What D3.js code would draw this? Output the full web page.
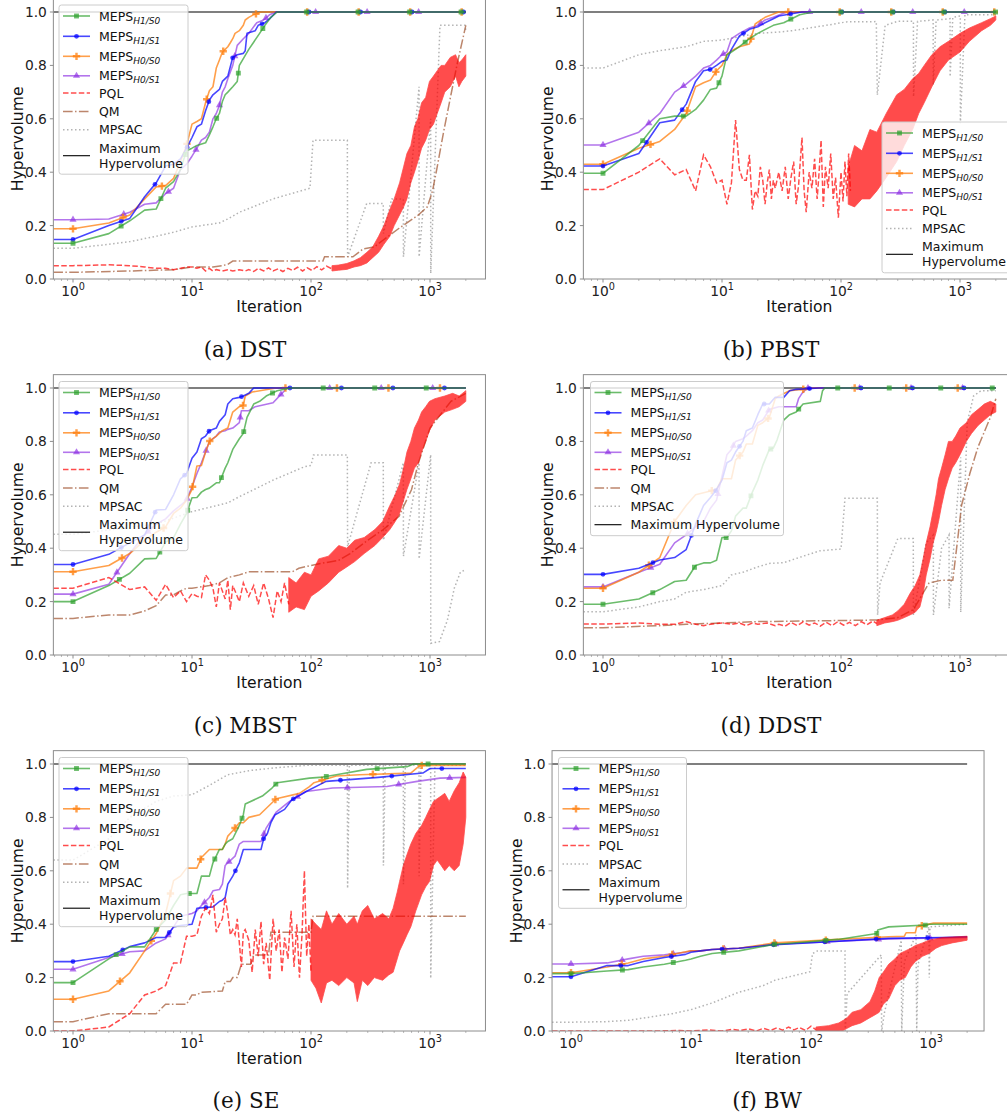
<!DOCTYPE html>
<html><head><meta charset="utf-8">
<script src="https://cdn.jsdelivr.net/npm/d3@7"></script>
<style>body{margin:0;background:#fff;overflow:hidden} svg text{font-family:"DejaVu Sans",sans-serif}</style>
</head><body><script>
// ---------------- DATA (iteration, hypervolume) ----------------
const TICK_Y = [0, 0.2, 0.4, 0.6, 0.8, 1.0];
const TICK_X = [1, 10, 100, 1000];
const MAX_HV = [[1, 1.0], [2000, 1.0]];

// (a) DST
const DST_H1S0 = [[1,0.134],[2,0.17],[3,0.218],[4,0.258],[5,0.262],[6,0.34],[7,0.365],[8,0.41],[9,0.48],[10,0.49],[11,0.50],[13,0.51],[14,0.54],[15,0.57],[16,0.60],[17,0.62],[18,0.665],[19,0.69],[20,0.70],[22,0.72],[24,0.74],[25,0.80],[30,0.86],[37,0.92],[41,0.95],[46,0.98],[52,1.0],[2000,1.0]];
const DST_H1S1 = [[1,0.148],[2,0.2],[3,0.227],[4,0.308],[5,0.36],[6,0.423],[7,0.43],[8,0.45],[9,0.49],[10,0.53],[11,0.57],[12,0.58],[13,0.63],[14,0.67],[15,0.69],[17,0.71],[18,0.74],[20,0.76],[22,0.83],[24,0.84],[27,0.845],[28,0.855],[29,0.92],[34,0.93],[36,0.95],[41,0.96],[45,0.975],[51,1.0],[2000,1.0]];
const DST_H0S0 = [[1,0.188],[2,0.21],[3,0.24],[4,0.30],[5,0.345],[6,0.35],[7,0.377],[8,0.44],[9,0.50],[10,0.58],[11,0.59],[12,0.60],[13,0.66],[14,0.705],[15,0.72],[16,0.79],[17,0.82],[18,0.85],[19,0.86],[20,0.87],[21,0.885],[22,0.90],[23,0.92],[25,0.93],[27,0.95],[28,0.97],[30,0.98],[33,0.99],[38,1.0],[2000,1.0]];
const DST_H0S1 = [[1,0.222],[2,0.225],[3,0.25],[4,0.28],[5,0.285],[6,0.32],[7,0.34],[8,0.41],[9,0.43],[10,0.46],[11,0.49],[12,0.52],[13,0.53],[14,0.55],[15,0.60],[16,0.62],[17,0.65],[18,0.70],[19,0.72],[20,0.75],[22,0.80],[24,0.875],[27,0.90],[30,0.92],[35,0.96],[40,0.97],[45,0.99],[50,1.0],[2000,1.0]];
const DST_PQL = [[1,0.05],[2,0.053],[3,0.05],[4,0.045],[5,0.04],[6,0.04],[7,0.035],[8,0.04],[9,0.045],[10,0.045],[11,0.04],[12,0.045],[13,0.03],[14,0.04],[15,0.03],[16,0.035],[18,0.03],[20,0.035],[22,0.03],[25,0.035],[28,0.03],[30,0.035],[33,0.028],[36,0.04],[40,0.03],[44,0.042],[48,0.03],[53,0.038],[58,0.028],[64,0.04],[70,0.032],[77,0.044],[85,0.03],[93,0.042],[102,0.032],[112,0.046],[123,0.034],[135,0.048],[150,0.038]];
const DST_PQL_BAND = [[150,0.03,0.05],[170,0.033,0.052],[200,0.036,0.058],[230,0.045,0.068],[260,0.05,0.08],[295,0.06,0.10],[330,0.08,0.12],[370,0.10,0.16],[410,0.13,0.20],[460,0.16,0.26],[500,0.20,0.30],[555,0.24,0.36],[600,0.27,0.42],[640,0.30,0.47],[690,0.36,0.50],[740,0.40,0.57],[790,0.44,0.60],[850,0.49,0.66],[920,0.52,0.68],[990,0.56,0.74],[1070,0.58,0.76],[1150,0.62,0.78],[1240,0.66,0.80],[1330,0.70,0.80],[1480,0.72,0.83],[1640,0.76,0.84],[1750,0.72,0.81],[1850,0.74,0.82],[2000,0.76,0.84]];
const DST_QM = [[1,0.025],[3,0.03],[7,0.035],[10,0.045],[15,0.045],[18,0.05],[20,0.055],[22,0.067],[126,0.067],[130,0.083],[225,0.083],[275,0.113],[340,0.12],[405,0.146],[550,0.19],[800,0.24],[950,0.27],[1050,0.33],[1150,0.42],[1300,0.55],[1500,0.69],[1700,0.81],[2000,0.95]];
const DST_MPSAC = [[1,0.115],[2,0.13],[3,0.14],[5,0.16],[7,0.175],[10,0.195],[17,0.21],[20,0.225],[25,0.25],[48,0.30],[98,0.34],[104,0.52],[202,0.52],[203,0.083],[294,0.283],[405,0.283],[406,0.17],[476,0.30],[597,0.30],[598,0.083],[809,0.72],[810,0.083],[1013,0.60],[1014,0.021],[1213,0.95],[1968,0.95],[2000,0.93]];

// (b) PBST
const PBST_H1S0 = [[1,0.396],[2,0.50],[3,0.60],[4,0.61],[5,0.61],[6,0.635],[7,0.67],[8,0.71],[9,0.715],[10,0.76],[11,0.84],[12,0.85],[14,0.87],[17,0.90],[20,0.92],[27,0.95],[33,0.96],[45,0.99],[58,1.0],[2000,1.0]];
const PBST_H1S1 = [[1,0.423],[2,0.47],[3,0.585],[4,0.595],[5,0.655],[6,0.74],[7,0.78],[8,0.785],[9,0.80],[10,0.815],[11,0.82],[12,0.86],[14,0.91],[17,0.935],[20,0.945],[23,0.96],[27,0.975],[30,0.985],[47,1.0],[2000,1.0]];
const PBST_H0S0 = [[1,0.43],[2,0.49],[3,0.515],[4,0.56],[5,0.62],[6,0.72],[7,0.735],[8,0.745],[9,0.78],[10,0.80],[11,0.84],[12,0.855],[14,0.87],[17,0.88],[19,0.955],[23,0.98],[30,1.0],[2000,1.0]];
const PBST_H0S1 = [[1,0.502],[2,0.55],[3,0.62],[4,0.70],[5,0.73],[6,0.76],[7,0.79],[8,0.80],[9,0.82],[10,0.84],[11,0.85],[12,0.90],[14,0.92],[17,0.94],[20,0.95],[23,0.97],[27,0.98],[35,1.0],[2000,1.0]];
const PBST_PQL = [[1,0.335],[2,0.40],[3,0.45],[4,0.39],[5,0.41],[6,0.33],[7,0.465],[8,0.42],[9,0.36],[10,0.37],[11,0.28],[12,0.36],[13,0.595],[14,0.41],[15,0.37],[16,0.37],[17,0.465],[18,0.26],[19,0.33],[20,0.31],[21,0.42],[22,0.37],[23,0.28],[24,0.36],[25,0.41],[26,0.30],[27,0.37],[28,0.34],[30,0.40],[32,0.33],[34,0.42],[36,0.30],[38,0.38],[40,0.44],[42,0.28],[44,0.35],[47,0.53],[49,0.33],[51,0.25],[54,0.40],[57,0.34],[60,0.45],[63,0.30],[65,0.38],[68,0.52],[71,0.27],[74,0.42],[78,0.34],[82,0.47],[86,0.30],[90,0.38],[95,0.23],[100,0.40],[104,0.29],[108,0.44],[112,0.31],[116,0.47],[120,0.33]];
const PBST_PQL_BAND = [[115,0.28,0.42],[130,0.27,0.50],[150,0.30,0.48],[175,0.30,0.56],[200,0.33,0.55],[240,0.38,0.62],[294,0.44,0.69],[340,0.50,0.71],[400,0.56,0.75],[450,0.62,0.77],[500,0.66,0.80],[580,0.72,0.84],[680,0.78,0.87],[800,0.82,0.89],[1000,0.85,0.92],[1200,0.89,0.94],[1520,0.93,0.96],[1800,0.95,0.975],[2000,0.97,0.985]];
const PBST_MPSAC = [[1,0.79],[2,0.84],[3,0.855],[5,0.87],[7,0.89],[10,0.895],[15,0.91],[20,0.92],[30,0.925],[39,0.93],[75,0.95],[111,0.963],[198,0.964],[202,0.689],[235,0.95],[300,0.965],[406,0.965],[407,0.683],[440,0.965],[595,0.97],[596,0.727],[630,0.97],[825,0.975],[826,0.758],[870,0.98],[1006,0.985],[1007,0.583],[1100,0.99],[2000,0.99]];

// (c) MBST
const MBST_H1S0 = [[1,0.20],[2,0.26],[3,0.306],[4,0.36],[5,0.362],[6,0.423],[7,0.44],[8,0.49],[9,0.53],[10,0.589],[11,0.59],[12,0.61],[13,0.62],[14,0.625],[16,0.645],[17,0.645],[19,0.70],[20,0.72],[22,0.77],[25,0.81],[27,0.83],[29,0.89],[33,0.94],[37,0.95],[42,0.97],[52,0.99],[67,1.0],[2000,1.0]];
const MBST_H1S1 = [[1,0.339],[2,0.377],[3,0.42],[4,0.45],[5,0.543],[6,0.545],[7,0.60],[8,0.66],[9,0.68],[10,0.737],[11,0.76],[12,0.81],[13,0.82],[14,0.84],[16,0.85],[17,0.875],[19,0.90],[20,0.94],[22,0.96],[25,0.965],[27,0.97],[30,0.98],[33,1.0],[2000,1.0]];
const MBST_H0S0 = [[1,0.312],[2,0.335],[3,0.38],[4,0.43],[5,0.46],[6,0.48],[7,0.53],[8,0.55],[9,0.58],[10,0.62],[11,0.708],[12,0.71],[13,0.76],[14,0.80],[16,0.82],[18,0.84],[20,0.85],[22,0.91],[25,0.93],[27,0.935],[28,0.97],[32,0.985],[51,1.0],[2000,1.0]];
const MBST_H0S1 = [[1,0.228],[2,0.265],[3,0.38],[4,0.45],[5,0.49],[6,0.51],[7,0.54],[8,0.56],[9,0.58],[10,0.63],[11,0.68],[12,0.72],[13,0.76],[14,0.80],[16,0.82],[17,0.835],[19,0.84],[20,0.845],[22,0.85],[25,0.87],[26,0.915],[30,0.915],[34,0.93],[48,0.945],[57,0.98],[63,1.0],[2000,1.0]];
const MBST_PQL = [[1,0.25],[2,0.29],[3,0.245],[4,0.255],[5,0.205],[6,0.265],[7,0.215],[8,0.24],[9,0.20],[10,0.23],[11,0.22],[12,0.215],[13,0.30],[14,0.28],[15,0.25],[16,0.18],[17,0.27],[18,0.24],[19,0.21],[20,0.28],[21,0.17],[22,0.26],[23,0.24],[25,0.20],[27,0.27],[30,0.22],[33,0.26],[36,0.19],[40,0.27],[44,0.21],[48,0.14],[52,0.24],[56,0.20],[60,0.27],[65,0.19]];
const MBST_PQL_BAND = [[65,0.16,0.29],[75,0.18,0.27],[88,0.17,0.31],[100,0.22,0.30],[116,0.24,0.36],[140,0.27,0.37],[171,0.31,0.41],[200,0.33,0.40],[233,0.35,0.43],[280,0.38,0.44],[344,0.41,0.47],[400,0.44,0.50],[460,0.47,0.56],[510,0.50,0.60],[555,0.53,0.64],[600,0.58,0.70],[640,0.62,0.76],[690,0.66,0.80],[740,0.70,0.85],[800,0.72,0.88],[850,0.76,0.91],[920,0.80,0.93],[990,0.84,0.95],[1100,0.88,0.96],[1330,0.91,0.97],[1550,0.92,0.98],[1760,0.93,0.97],[2000,0.95,0.99]];
const MBST_QM = [[1,0.137],[2,0.15],[3,0.15],[4,0.165],[5,0.185],[6,0.225],[7,0.225],[8,0.24],[9,0.25],[10,0.25],[14,0.26],[17,0.27],[20,0.29],[25,0.30],[30,0.312],[70,0.312],[79,0.325],[112,0.34],[171,0.355],[213,0.38],[300,0.43],[405,0.47],[550,0.52],[700,0.62],[800,0.72],[1000,0.85],[1500,0.95],[2000,0.98]];
const MBST_MPSAC = [[1,0.452],[5,0.49],[10,0.537],[20,0.57],[25,0.593],[30,0.61],[48,0.655],[88,0.705],[100,0.71],[105,0.749],[202,0.749],[203,0.406],[320,0.72],[405,0.72],[406,0.43],[597,0.72],[598,0.37],[809,0.72],[810,0.36],[1013,0.75],[1014,0.044],[1200,0.05],[1400,0.13],[1600,0.25],[1800,0.31],[2000,0.32]];

// (d) DDST
const DDST_H1S0 = [[1,0.19],[2,0.21],[3,0.245],[4,0.275],[5,0.28],[6,0.335],[7,0.345],[8,0.345],[9,0.355],[10,0.44],[11,0.44],[12,0.465],[13,0.52],[15,0.55],[16,0.55],[18,0.61],[20,0.655],[22,0.71],[25,0.77],[27,0.775],[29,0.805],[33,0.88],[37,0.90],[42,0.91],[48,0.94],[67,0.95],[70,0.99],[73,1.0],[2000,1.0]];
const DDST_H1S1 = [[1,0.302],[2,0.325],[3,0.356],[4,0.365],[5,0.395],[6,0.49],[7,0.56],[8,0.59],[9,0.62],[10,0.655],[11,0.72],[12,0.73],[13,0.76],[15,0.80],[16,0.84],[18,0.85],[20,0.90],[22,0.94],[25,0.94],[28,0.965],[33,0.965],[37,0.99],[42,0.995],[65,1.0],[2000,1.0]];
const DDST_H0S0 = [[1,0.25],[2,0.31],[3,0.365],[4,0.50],[5,0.56],[6,0.60],[9,0.62],[10,0.66],[12,0.66],[13,0.73],[15,0.76],[16,0.79],[18,0.79],[20,0.86],[22,0.87],[25,0.89],[28,0.96],[30,0.97],[37,0.99],[60,1.0],[2000,1.0]];
const DDST_H0S1 = [[1,0.255],[2,0.31],[3,0.34],[4,0.42],[5,0.45],[6,0.48],[7,0.50],[8,0.55],[9,0.58],[10,0.67],[11,0.75],[12,0.77],[13,0.80],[15,0.81],[16,0.82],[18,0.84],[20,0.87],[22,0.88],[25,0.92],[30,0.93],[42,0.93],[44,0.96],[47,0.98],[52,1.0],[2000,1.0]];
const DDST_PQL = [[1,0.116],[2,0.12],[3,0.115],[4,0.115],[5,0.125],[6,0.115],[7,0.11],[8,0.115],[10,0.12],[12,0.115],[14,0.12],[16,0.11],[18,0.12],[20,0.115],[24,0.12],[28,0.11],[30,0.115],[34,0.108],[38,0.122],[43,0.11],[48,0.124],[54,0.112],[60,0.12],[67,0.108],[75,0.123],[84,0.11],[94,0.125],[105,0.112],[118,0.122],[132,0.11],[148,0.125],[165,0.113],[185,0.127],[200,0.118]];
const DDST_PQL_BAND = [[200,0.11,0.13],[233,0.12,0.14],[270,0.125,0.15],[300,0.13,0.165],[340,0.14,0.19],[380,0.15,0.23],[420,0.16,0.26],[460,0.18,0.30],[490,0.23,0.36],[520,0.30,0.42],[560,0.36,0.48],[595,0.42,0.54],[630,0.46,0.60],[660,0.50,0.66],[700,0.56,0.70],[750,0.62,0.75],[800,0.66,0.80],[860,0.70,0.80],[920,0.72,0.82],[1000,0.75,0.85],[1130,0.80,0.87],[1250,0.83,0.90],[1420,0.86,0.92],[1600,0.88,0.94],[1800,0.90,0.95],[2000,0.91,0.94]];
const DDST_QM = [[1,0.102],[3,0.11],[5,0.115],[10,0.12],[20,0.125],[200,0.131],[300,0.14],[405,0.17],[550,0.27],[700,0.28],[870,0.28],[960,0.44],[1030,0.56],[1210,0.68],[1420,0.78],[1800,0.89],[2000,0.96]];
const DDST_MPSAC = [[1,0.162],[2,0.18],[3,0.20],[4,0.21],[5,0.235],[7,0.245],[10,0.26],[12,0.30],[15,0.31],[20,0.33],[25,0.343],[33,0.346],[48,0.37],[66,0.39],[100,0.397],[108,0.587],[202,0.587],[203,0.15],[213,0.27],[300,0.436],[405,0.436],[406,0.15],[520,0.42],[597,0.45],[598,0.15],[700,0.40],[809,0.45],[810,0.175],[1013,0.74],[1014,0.16],[1150,0.87],[1300,0.97],[1500,0.99],[2000,0.99]];

// (e) SE
const SE_H1S0 = [[1,0.181],[2,0.27],[3,0.315],[4,0.315],[5,0.38],[6,0.416],[7,0.47],[8,0.51],[9,0.515],[11,0.515],[12,0.58],[14,0.58],[15,0.63],[17,0.68],[18,0.68],[19,0.70],[20,0.71],[22,0.72],[25,0.77],[27,0.81],[28,0.85],[39,0.88],[47,0.91],[52,0.93],[97,0.947],[126,0.951],[163,0.96],[294,0.98],[640,0.99],[730,1.0],[2000,1.0]];
const SE_H1S1 = [[1,0.26],[2,0.28],[3,0.316],[4,0.33],[5,0.35],[6,0.35],[7,0.39],[8,0.395],[10,0.40],[11,0.46],[15,0.465],[17,0.485],[18,0.49],[19,0.50],[20,0.55],[22,0.58],[25,0.63],[27,0.68],[38,0.68],[40,0.72],[43,0.74],[46,0.78],[50,0.81],[60,0.83],[69,0.866],[91,0.897],[134,0.935],[368,0.95],[870,0.966],[1000,0.983],[2000,0.983]];
const SE_H0S0 = [[1,0.119],[2,0.15],[3,0.218],[4,0.30],[5,0.365],[6,0.44],[7,0.563],[8,0.58],[9,0.61],[11,0.61],[12,0.65],[14,0.68],[18,0.68],[19,0.70],[20,0.73],[22,0.75],[25,0.78],[27,0.78],[30,0.80],[37,0.81],[51,0.87],[80,0.89],[97,0.915],[106,0.93],[163,0.955],[256,0.96],[690,0.966],[800,0.99],[850,0.995],[2000,0.995]];
const SE_H0S1 = [[1,0.231],[2,0.275],[3,0.297],[4,0.30],[5,0.33],[6,0.345],[7,0.39],[8,0.43],[10,0.44],[11,0.45],[12,0.47],[14,0.50],[15,0.525],[17,0.53],[18,0.55],[19,0.62],[20,0.63],[23,0.655],[25,0.70],[27,0.71],[38,0.71],[42,0.76],[51,0.82],[66,0.86],[91,0.897],[152,0.91],[434,0.916],[780,0.935],[1213,0.947],[2000,0.95]];
const SE_PQL = [[1,0.0],[2,0.015],[3,0.065],[4,0.135],[5,0.15],[6,0.17],[7,0.255],[8,0.255],[9,0.355],[10,0.355],[11,0.36],[12,0.43],[13,0.46],[14,0.44],[15,0.51],[16,0.37],[17,0.40],[18,0.42],[19,0.50],[20,0.44],[21,0.36],[22,0.38],[23,0.36],[24,0.42],[25,0.33],[26,0.24],[27,0.37],[28,0.38],[30,0.34],[32,0.22],[34,0.38],[36,0.28],[38,0.41],[40,0.25],[42,0.33],[45,0.19],[48,0.42],[51,0.30],[54,0.38],[57,0.22],[60,0.35],[64,0.27],[68,0.45],[72,0.24],[76,0.40],[80,0.20],[84,0.36],[88,0.60],[92,0.28],[96,0.40],[100,0.22]];
const SE_PQL_BAND = [[100,0.19,0.42],[110,0.16,0.40],[122,0.105,0.38],[135,0.18,0.45],[150,0.19,0.40],[171,0.17,0.44],[200,0.20,0.40],[230,0.18,0.43],[245,0.11,0.40],[270,0.19,0.45],[300,0.17,0.47],[340,0.20,0.42],[400,0.19,0.44],[450,0.21,0.42],[490,0.22,0.46],[530,0.27,0.52],[555,0.30,0.56],[597,0.33,0.62],[640,0.36,0.66],[690,0.39,0.70],[760,0.45,0.74],[850,0.51,0.77],[920,0.54,0.80],[990,0.56,0.83],[1070,0.62,0.86],[1150,0.64,0.87],[1240,0.62,0.88],[1330,0.60,0.89],[1450,0.62,0.86],[1600,0.60,0.90],[1760,0.62,0.93],[1900,0.70,0.97],[2000,0.80,0.95]];
const SE_QM = [[1,0.035],[2,0.065],[5,0.065],[6,0.10],[9,0.10],[10,0.135],[11,0.135],[12,0.145],[18,0.15],[19,0.185],[21,0.185],[22,0.2],[24,0.2],[26,0.25],[31,0.25],[33,0.285],[44,0.285],[46,0.37],[100,0.37],[104,0.43],[2000,0.43]];
const SE_MPSAC = [[1,0.64],[2,0.72],[3,0.80],[5,0.86],[7,0.88],[10,0.885],[14,0.92],[20,0.96],[30,0.975],[48,0.985],[91,0.995],[202,0.995],[203,0.534],[210,0.995],[405,0.995],[406,0.62],[420,0.995],[597,0.995],[598,0.55],[620,0.995],[809,0.995],[810,0.58],[840,0.995],[1013,0.995],[1014,0.197],[1100,0.995],[2000,0.995]];

// (f) BW
const BW_H1S0 = [[1,0.215],[2,0.225],[3,0.23],[4,0.24],[6,0.25],[9,0.265],[10,0.27],[12,0.28],[15,0.29],[25,0.30],[50,0.325],[63,0.328],[168,0.343],[353,0.365],[360,0.378],[444,0.39],[927,0.397],[960,0.40],[2000,0.40]];
const BW_H1S1 = [[1,0.203],[2,0.245],[3,0.245],[4,0.26],[6,0.275],[9,0.287],[10,0.295],[12,0.30],[15,0.305],[25,0.31],[46,0.322],[444,0.347],[1230,0.35],[2000,0.353]];
const BW_H0S0 = [[1,0.218],[2,0.24],[3,0.255],[4,0.27],[6,0.28],[9,0.297],[10,0.30],[12,0.30],[15,0.305],[25,0.31],[50,0.33],[168,0.343],[444,0.353],[600,0.355],[620,0.368],[740,0.368],[760,0.39],[1050,0.404],[2000,0.404]];
const BW_H0S1 = [[1,0.251],[2,0.255],[3,0.27],[4,0.28],[6,0.285],[9,0.295],[10,0.30],[12,0.30],[15,0.305],[25,0.31],[50,0.325],[444,0.345],[2000,0.35]];
const BW_PQL = [[1,0.0],[5,0.0],[8,0.002],[10,0.0],[14,0.004],[18,0.0],[22,0.006],[26,0.002],[30,0.008],[35,0.0],[40,0.01],[46,0.002],[52,0.012],[58,0.003],[65,0.015],[72,0.004],[80,0.013],[90,0.002],[100,0.018],[110,0.005]];
const BW_PQL_BAND = [[110,0.0,0.015],[140,0.0,0.02],[170,0.0,0.03],[186,0.002,0.04],[200,0.01,0.05],[220,0.02,0.07],[260,0.03,0.08],[310,0.05,0.11],[340,0.06,0.15],[370,0.07,0.20],[400,0.10,0.22],[444,0.12,0.25],[500,0.17,0.27],[550,0.19,0.29],[610,0.20,0.30],[680,0.24,0.31],[740,0.26,0.32],[850,0.28,0.33],[960,0.29,0.34],[1100,0.31,0.345],[1230,0.32,0.35],[1500,0.33,0.352],[2000,0.34,0.355]];
const BW_MPSAC = [[1,0.033],[2,0.035],[3,0.04],[5,0.055],[7,0.065],[10,0.08],[15,0.105],[25,0.145],[40,0.17],[50,0.19],[98,0.222],[103,0.29],[113,0.30],[186,0.30],[192,0.30],[193,0.0],[200,0.14],[385,0.285],[388,0.0],[410,0.07],[565,0.34],[570,0.0],[600,0.26],[750,0.36],[760,0.0],[780,0.25],[960,0.39],[968,0.2],[980,0.39],[2000,0.40]];

// ---------------- STYLE / LAYOUT ----------------
const STY = {
  h1s0:{c:'#2ca02c', op:0.7, sym:'square', sub:'H1/S0'},
  h1s1:{c:'#0000ff', op:0.72, sym:'circle', sub:'H1/S1'},
  h0s0:{c:'#ff7f0e', op:0.75, sym:'plus', sub:'H0/S0'},
  h0s1:{c:'#8a2be2', op:0.65, sym:'triangle', sub:'H0/S1'}
};
const PQL_C='#ff0000', QM_C='#a0522d', MPSAC_C='#808080';
const UNIT = 267;   // px per 1.0 of hypervolume

const panels = [
  {cap:'(a) DST', x0:73, dec:119, lo:-0.165, hi:3.466, y0:279, capX:245, capY:357,
   meps:[DST_H1S0,DST_H1S1,DST_H0S0,DST_H0S1], pql:DST_PQL, band:DST_PQL_BAND, qm:DST_QM, mpsac:DST_MPSAC,
   leg:{x:59, y:5, w:129, items:['h1s0','h1s1','h0s0','h0s1','pql','qm','mpsac','max2']}},
  {cap:'(b) PBST', x0:603, dec:119, lo:-0.165, hi:3.466, y0:279, capX:771, capY:357,
   meps:[PBST_H1S0,PBST_H1S1,PBST_H0S0,PBST_H0S1], pql:PBST_PQL, band:PBST_PQL_BAND, qm:null, mpsac:PBST_MPSAC,
   leg:{x:882, y:122, w:129, items:['h1s0','h1s1','h0s0','h0s1','pql','mpsac','max2']}},
  {cap:'(c) MBST', x0:73, dec:119, lo:-0.165, hi:3.466, y0:655, capX:245, capY:733,
   meps:[MBST_H1S0,MBST_H1S1,MBST_H0S0,MBST_H0S1], pql:MBST_PQL, band:MBST_PQL_BAND, qm:MBST_QM, mpsac:MBST_MPSAC,
   leg:{x:59, y:381.5, w:129, items:['h1s0','h1s1','h0s0','h0s1','pql','qm','mpsac','max2']}},
  {cap:'(d) DDST', x0:603, dec:119, lo:-0.165, hi:3.466, y0:655, capX:771, capY:733,
   meps:[DDST_H1S0,DDST_H1S1,DDST_H0S0,DDST_H0S1], pql:DDST_PQL, band:DDST_PQL_BAND, qm:DDST_QM, mpsac:DDST_MPSAC,
   leg:{x:590.5, y:381.5, w:193, items:['h1s0','h1s1','h0s0','h0s1','pql','qm','mpsac','max1']}},
  {cap:'(e) SE', x0:73, dec:119, lo:-0.165, hi:3.466, y0:1031, capX:246, capY:1108,
   meps:[SE_H1S0,SE_H1S1,SE_H0S0,SE_H0S1], pql:SE_PQL, band:SE_PQL_BAND, qm:SE_QM, mpsac:SE_MPSAC,
   leg:{x:59, y:757.5, w:129, items:['h1s0','h1s1','h0s0','h0s1','pql','qm','mpsac','max2']}},
  {cap:'(f) BW', x0:571, dec:120, lo:-0.158, hi:3.442, y0:1031, capX:767, capY:1108,
   meps:[BW_H1S0,BW_H1S1,BW_H0S0,BW_H0S1], pql:BW_PQL, band:BW_PQL_BAND, qm:null, mpsac:BW_MPSAC,
   leg:{x:558.5, y:757.5, w:128, items:['h1s0','h1s1','h0s0','h0s1','pql','mpsac','max2']}}
];

const svg = d3.select('body').append('svg').attr('width',1007).attr('height',1120);

function drawMarker(g, kind, cx, cy, color, op){
  if(kind==='circle'){
    g.append('circle').attr('cx',cx).attr('cy',cy).attr('r',2.4).attr('fill',color).attr('fill-opacity',op);
  } else {
    const t = {square:d3.symbolSquare, plus:d3.symbolCross, triangle:d3.symbolTriangle}[kind];
    const s = {square:24, plus:30, triangle:22}[kind];
    g.append('path').attr('d', d3.symbol().type(t).size(s)()).attr('transform',`translate(${cx},${cy})`)
      .attr('fill',color).attr('fill-opacity',op);
  }
}

panels.forEach((p,pi)=>{
  const left = p.x0 + p.lo*p.dec, right = p.x0 + p.hi*p.dec;
  const x = d3.scaleLog().domain([10**p.lo, 10**p.hi]).range([left,right]);
  const y = d3.scaleLinear().domain([0,1.05]).range([p.y0, p.y0 - 1.05*UNIT]);
  const top = y(1.05);
  const g = svg.append('g');
  const cid = 'clip'+pi;
  g.append('clipPath').attr('id',cid).append('rect').attr('x',left).attr('y',top).attr('width',right-left).attr('height',p.y0-top);
  const plot = g.append('g').attr('clip-path',`url(#${cid})`);
  const xmin = x.domain()[0];
  const ext = d => [[xmin, d[0][1]]].concat(d);
  const line = d3.line().x(d=>x(d[0])).y(d=>y(d[1]));

  plot.append('path').attr('d', line(ext(MAX_HV))).attr('fill','none').attr('stroke','#000').attr('stroke-width',1.1);
  plot.append('path').attr('d', line(ext(p.mpsac))).attr('fill','none').attr('stroke',MPSAC_C)
    .attr('stroke-opacity',0.6).attr('stroke-width',1.5).attr('stroke-dasharray','1.5,2.5');
  if(p.qm) plot.append('path').attr('d', line(ext(p.qm))).attr('fill','none').attr('stroke',QM_C)
    .attr('stroke-opacity',0.7).attr('stroke-width',1.5).attr('stroke-dasharray','9.6,2.4,1.5,2.4');
  const keys = ['h1s0','h1s1','h0s0','h0s1'];
  const diag = Math.hypot(right-left, p.y0-top);
  [3,2,1,0].forEach(i=>{
    const st = STY[keys[i]], data = p.meps[i];
    const sg = plot.append('g');
    sg.append('path').attr('d', line(ext(data))).attr('fill','none').attr('stroke',st.c)
      .attr('stroke-opacity',st.op).attr('stroke-width',1.6).attr('stroke-linejoin','round');
    const mp = sg.append('path').attr('d', line(data)).attr('fill','none').attr('stroke','none');
    const node = mp.node(), L = node.getTotalLength(), step = 0.1*diag;
    for(let s=0; s<=L+0.5; s+=step){
      const pt = node.getPointAtLength(Math.min(s,L));
      drawMarker(sg, st.sym, pt.x, pt.y, st.c, st.op);
    }
    mp.remove();
  });
  const pg = plot.append('g').attr('opacity',0.7);
  pg.append('path').attr('d', d3.area().x(d=>x(d[0])).y0(d=>y(d[1])).y1(d=>y(d[2]))(p.band))
    .attr('fill',PQL_C).attr('stroke',PQL_C).attr('stroke-width',0.8);
  plot.append('path').attr('d', line(ext(p.pql))).attr('fill','none').attr('stroke',PQL_C)
    .attr('stroke-opacity',0.7).attr('stroke-width',1.5).attr('stroke-dasharray','5.5,2.4');

  g.append('rect').attr('x',left).attr('y',top).attr('width',right-left).attr('height',p.y0-top)
    .attr('fill','none').attr('stroke','#8c8c8c').attr('stroke-width',1);

  const ya = g.append('g');
  TICK_Y.forEach(v=>{
    ya.append('line').attr('x1',left-3.5).attr('x2',left).attr('y1',y(v)).attr('y2',y(v)).attr('stroke','#8c8c8c');
    ya.append('text').attr('x',left-6.5).attr('y',y(v)).attr('dy','0.36em').attr('text-anchor','end')
      .attr('font-size',13.8).attr('fill','#222').text(d3.format('.1f')(v));
  });
  const xa = g.append('g');
  TICK_X.forEach(v=>{
    const xx = x(v);
    xa.append('line').attr('x1',xx).attr('x2',xx).attr('y1',p.y0).attr('y2',p.y0+3.5).attr('stroke','#8c8c8c');
    const t = xa.append('text').attr('x',xx).attr('y',p.y0+16.5).attr('text-anchor','middle').attr('font-size',13.8).attr('fill','#222');
    t.append('tspan').text('10');
    t.append('tspan').attr('dy',-6).attr('font-size',9.7).text(String(Math.round(Math.log10(v))));
  });
  for(let e=-1;e<=3;e++) for(let m=2;m<=9;m++){
    const v = m*10**e;
    if(v < x.domain()[0] || v > x.domain()[1]) continue;
    xa.append('line').attr('x1',x(v)).attr('x2',x(v)).attr('y1',p.y0).attr('y2',p.y0+2).attr('stroke','#8c8c8c').attr('stroke-width',0.6);
  }
  g.append('text').attr('x',(left+right)/2).attr('y',p.y0+33).attr('text-anchor','middle').attr('font-size',15.6).attr('fill','#111').text('Iteration');
  g.append('text').attr('transform',`translate(${left-30.5},${(top+p.y0)/2}) rotate(-90)`).attr('text-anchor','middle')
    .attr('font-size',15.6).attr('fill','#111').text('Hypervolume');

  const lg = g.append('g');
  const its = p.leg.items;
  const rows = []; let last = 0;
  its.forEach((k,i)=>{
    const r = i<4 ? [11,31.3,51.3,70.8][i] : 88 + 18.4*(i-4);
    rows.push(r);
    last = r + (k==='max2'?15:0);
  });
  const lh = last + 11;
  lg.append('rect').attr('x',p.leg.x).attr('y',p.leg.y).attr('width',p.leg.w).attr('height',lh).attr('rx',2.5)
    .attr('fill','#fff').attr('fill-opacity',0.8).attr('stroke','#cccccc').attr('stroke-width',1);
  const hx1 = p.leg.x+4, hx2 = p.leg.x+31, tx = p.leg.x+40;
  its.forEach((k,i)=>{
    const cy = p.leg.y + rows[i];
    const hy = k==='max2' ? cy+7.5 : cy;
    const h = lg.append('line').attr('x1',hx1).attr('x2',hx2).attr('y1',hy).attr('y2',hy);
    const t = lg.append('text').attr('x',tx).attr('y',cy+4.6).attr('font-size',12.5).attr('fill','#111');
    if(STY[k]){
      const st = STY[k];
      h.attr('stroke',st.c).attr('stroke-opacity',st.op).attr('stroke-width',1.6);
      drawMarker(lg, st.sym, (hx1+hx2)/2, hy, st.c, st.op);
      t.append('tspan').text('MEPS');
      t.append('tspan').attr('dy',3).attr('font-size',9).attr('font-style','italic').text(st.sub);
    } else if(k==='pql'){
      h.attr('stroke',PQL_C).attr('stroke-opacity',0.7).attr('stroke-width',1.5).attr('stroke-dasharray','5.5,2.4'); t.text('PQL');
    } else if(k==='qm'){
      h.attr('stroke',QM_C).attr('stroke-opacity',0.7).attr('stroke-width',1.5).attr('stroke-dasharray','9.6,2.4,1.5,2.4'); t.text('QM');
    } else if(k==='mpsac'){
      h.attr('stroke',MPSAC_C).attr('stroke-opacity',0.6).attr('stroke-width',1.5).attr('stroke-dasharray','1.5,2.5'); t.text('MPSAC');
    } else if(k==='max1'){
      h.attr('stroke','#000').attr('stroke-width',1.1); t.text('Maximum Hypervolume');
    } else {
      h.attr('stroke','#000').attr('stroke-width',1.1); t.text('Maximum');
      lg.append('text').attr('x',tx).attr('y',cy+15+4.6).attr('font-size',12.5).attr('fill','#111').text('Hypervolume');
    }
  });

  svg.append('text').attr('x',p.capX).attr('y',p.capY).attr('text-anchor','middle')
    .style('font-family','"DejaVu Serif",serif').attr('font-size',21.5).attr('fill','#111').text(p.cap);
});
</script></body></html>
